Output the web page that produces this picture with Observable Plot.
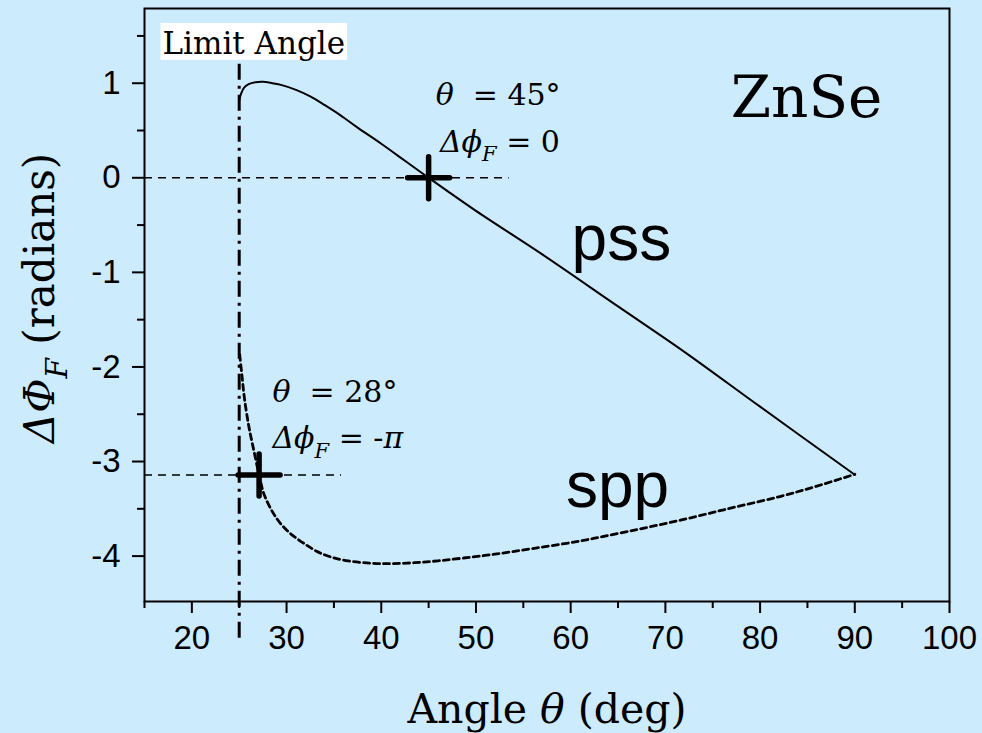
<!DOCTYPE html>
<html>
<head>
<meta charset="utf-8">
<script src="https://cdn.jsdelivr.net/npm/d3@7"></script>
<script src="https://cdn.jsdelivr.net/npm/@observablehq/plot@0.6"></script>
<style>
  html, body { margin: 0; padding: 0; background: #ccebfd; }
  #chart svg { display: block; }
</style>
</head>
<body>
<div id="chart"></div>
<script>
// ---- data ----
const pssAngle = [25.0, 25.2, 25.5, 26.0, 26.7, 27.5, 28.5, 29.5, 31, 32.5, 34, 35.7, 37.5, 40, 42.5, 45, 50, 57, 65, 72, 80, 90];
const pssPhase = [0.82, 0.89, 0.95, 0.99, 1.01, 1.015, 1.0, 0.98, 0.93, 0.86, 0.77, 0.66, 0.53, 0.36, 0.18, 0.0, -0.35, -0.81, -1.36, -1.84, -2.42, -3.14];

const sppAngle = [25.05, 25.3, 25.55, 26.0, 26.45, 27.1, 27.6, 28.5, 29.4, 30.5, 31.9, 33.2, 34.7, 36.5, 38.9, 41, 43.5, 46, 48.7, 52, 56, 61, 66, 71.6, 77, 82.1, 86, 90];
const sppPhase = [-1.87, -2.1, -2.33, -2.62, -2.84, -3.14, -3.34, -3.53, -3.66, -3.77, -3.87, -3.95, -4.01, -4.05, -4.075, -4.08, -4.07, -4.05, -4.02, -3.98, -3.92, -3.84, -3.74, -3.62, -3.49, -3.37, -3.26, -3.135];

const xMajorTicks = [20, 30, 40, 50, 60, 70, 80, 90, 100];
const xMinorTicks = [15, 25, 35, 45, 55, 65, 75, 85, 95];
const yMajorTicks = [-4, -3, -2, -1, 0, 1];
const yMinorTicks = [-3.5, -2.5, -1.5, -0.5, 0.5, 1.5];

const markAngle = [45, 27.1];
const markPhase = [0, -Math.PI];

const refPhase = [0, -Math.PI];
const refStart = [15, 15];
const refEnd = [53.5, 35.8];

const limitAngle = [25];
const limitTop = [1.2];
const limitBottom = [-4.9];

const noteText = ["*θ*  = 45°", "*Δϕ*_{F} = 0", "*θ*  = 28°", "*Δϕ*_{F} = -*π*"];
const noteAngle = [45.74, 46.19, 28.51, 28.51];
const notePhase = [0.87, 0.376, -2.27, -2.76];

const curveNames = ["pss", "spp"];
const curveNameAngle = [60.1, 59.5];
const curveNamePhase = [-0.657, -3.265];

const materialName = ["ZnSe"];
const materialAngle = [76.9];
const materialPhase = [0.837];

const limitLabel = ["Limit Angle"];
const limitLabelAngle = [16.9];
const limitLabelPhase = [1.415];

const xTitle = ["Angle *θ* (deg)"];
const yTitle = ["*ΔΦ*_{F} (radians)"];

// ---- build ----
const pss = pssAngle.map((a, i) => ({angle: a, phase: pssPhase[i]}));
const spp = sppAngle.map((a, i) => ({angle: a, phase: sppPhase[i]}));
const marks = markAngle.map((a, i) => ({angle: a, phase: markPhase[i]}));
const refs = refPhase.map((p, i) => ({phase: p, x1: refStart[i], x2: refEnd[i]}));
const limits = limitAngle.map((a, i) => ({angle: a, y1: limitTop[i], y2: limitBottom[i]}));
const notes = noteText.map((t, i) => ({text: t, angle: noteAngle[i], phase: notePhase[i]}));
const curveLabels = curveNames.map((t, i) => ({text: t, angle: curveNameAngle[i], phase: curveNamePhase[i]}));
const matLabels = materialName.map((t, i) => ({text: t, angle: materialAngle[i], phase: materialPhase[i]}));
const limLabels = limitLabel.map((t, i) => ({text: t, angle: limitLabelAngle[i], phase: limitLabelPhase[i]}));

const SERIF = "DejaVu Serif, serif";
const SANS = "Liberation Sans, Arial, sans-serif";

const plusSymbol = {
  draw(context, size) {
    const r = Math.sqrt(size / Math.PI);
    context.moveTo(-r, 0); context.lineTo(r, 0);
    context.moveTo(0, -r); context.lineTo(0, r);
  }
};

const chart = Plot.plot({
  width: 982,
  height: 733,
  marginLeft: 144,
  marginRight: 33,
  marginTop: 8,
  marginBottom: 132,
  style: {background: "transparent", color: "black", fontFamily: SANS, overflow: "visible"},
  x: {domain: [15, 100]},
  y: {domain: [-4.48, 1.79]},
  marks: [
    Plot.ruleY(refs, {y: "phase", x1: "x1", x2: "x2", stroke: "black", strokeWidth: 1.5, strokeDasharray: "8,6"}),
    Plot.ruleX(limits, {x: "angle", y1: "y1", y2: "y2", stroke: "black", strokeWidth: 3, strokeDasharray: "16,6,3,6"}),
    Plot.line(pss, {x: "angle", y: "phase", curve: "catmull-rom", stroke: "black", strokeWidth: 2}),
    Plot.line(spp, {x: "angle", y: "phase", curve: "catmull-rom", stroke: "black", strokeWidth: 2.8, strokeDasharray: "6,4"}),
    Plot.dot(marks, {x: "angle", y: "phase", symbol: plusSymbol, r: 21, fill: "none", stroke: "black", strokeWidth: 5.5, strokeLinecap: "round"}),
    Plot.axisX({ticks: xMajorTicks, tickSize: 12, tickPadding: 12, fontSize: 33, fontFamily: SANS, strokeWidth: 2, label: null, tickFormat: d => String(d)}),
    Plot.axisX({ticks: xMinorTicks, tickSize: 7, strokeWidth: 2, label: null, tickFormat: () => ""}),
    Plot.axisY({ticks: yMajorTicks, tickSize: 12, tickPadding: 12, fontSize: 33, fontFamily: SANS, strokeWidth: 2, label: null, tickFormat: d => String(d)}),
    Plot.axisY({ticks: yMinorTicks, tickSize: 7, strokeWidth: 2, label: null, tickFormat: () => ""}),
    Plot.frame({stroke: "black", strokeWidth: 2}),
    Plot.text(limLabels, {x: "angle", y: "phase", text: "text", textAnchor: "start", lineAnchor: "middle", fontFamily: SERIF, fontSize: 31, fill: "black"}),
    Plot.text(notes, {x: "angle", y: "phase", text: "text", textAnchor: "start", lineAnchor: "middle", fontFamily: SERIF, fontSize: 30, fill: "black"}),
    Plot.text(curveLabels, {x: "angle", y: "phase", text: "text", textAnchor: "start", lineAnchor: "middle", fontFamily: SANS, fontSize: 64, fill: "black"}),
    Plot.text(matLabels, {x: "angle", y: "phase", text: "text", textAnchor: "start", lineAnchor: "middle", fontFamily: SERIF, fontSize: 58, fill: "black"}),
    Plot.text(xTitle, {text: d => d, frameAnchor: "bottom", dy: 108, textAnchor: "middle", lineAnchor: "middle", fontFamily: SERIF, fontSize: 41, fill: "black"}),
    Plot.text(yTitle, {text: d => d, frameAnchor: "left", dx: -104, dy: -7, rotate: -90, textAnchor: "middle", lineAnchor: "middle", fontFamily: SERIF, fontSize: 42, fill: "black"})
  ]
});

document.getElementById("chart").appendChild(chart);

// ---- rich text: *italic* and _{subscript} ----
const NS = "http://www.w3.org/2000/svg";
chart.querySelectorAll("text").forEach(t => {
  const s = t.textContent;
  if (!/[*_]/.test(s)) return;
  const fs = parseFloat(getComputedStyle(t).fontSize) || 30;
  const parts = s.split(/(\*[^*]+\*|_\{[^}]+\})/).filter(p => p.length);
  t.textContent = "";
  let lowered = 0;
  parts.forEach(p => {
    const ts = document.createElementNS(NS, "tspan");
    let content = p, italic = false, sub = false;
    if (p.startsWith("*")) { content = p.slice(1, -1); italic = true; }
    else if (p.startsWith("_{")) { content = p.slice(2, -1); italic = true; sub = true; }
    ts.textContent = content.replace(/ /g, "\u00a0");
    if (italic) ts.setAttribute("font-style", "italic");
    if (sub) {
      const shift = fs * 0.32;
      ts.setAttribute("font-size", (fs * 0.7) + "px");
      ts.setAttribute("dy", shift);
      lowered += shift;
    } else if (lowered) {
      ts.setAttribute("dy", -lowered);
      lowered = 0;
    }
    t.appendChild(ts);
  });
});

// ---- white box behind "Limit Angle" ----
chart.querySelectorAll("text").forEach(t => {
  if (t.textContent !== limitLabel[0]) return;
  const bb = t.getBBox();
  const rect = document.createElementNS(NS, "rect");
  rect.setAttribute("x", bb.x - 2);
  rect.setAttribute("y", bb.y - 2);
  rect.setAttribute("width", bb.width + 4);
  rect.setAttribute("height", bb.height + 1);
  rect.setAttribute("fill", "white");
  if (t.getAttribute("transform")) rect.setAttribute("transform", t.getAttribute("transform"));
  t.parentNode.insertBefore(rect, t);
});
</script>
</body>
</html>
